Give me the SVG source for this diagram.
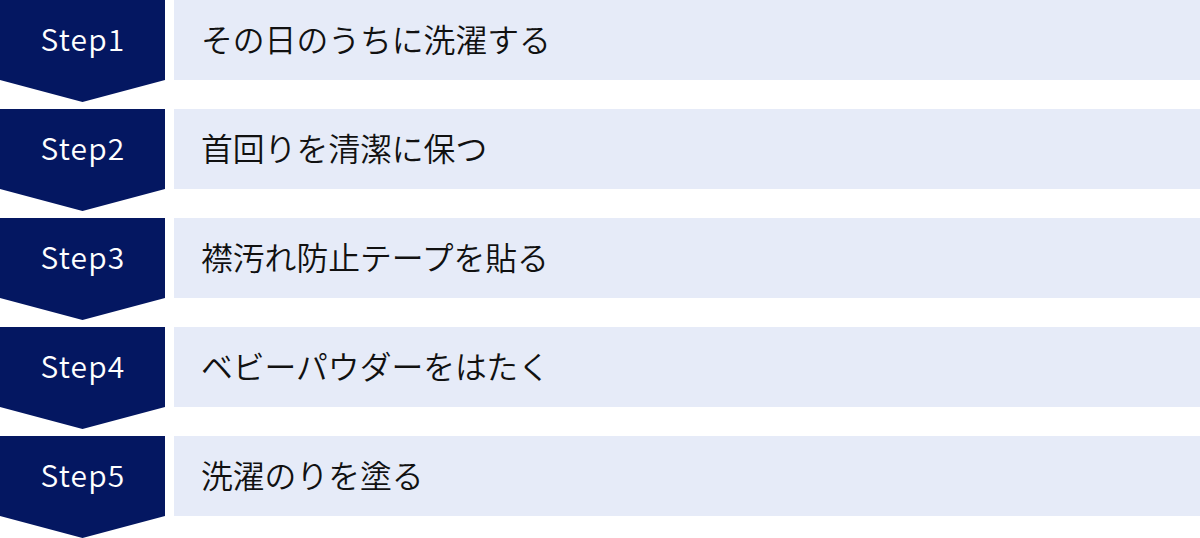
<svg xmlns="http://www.w3.org/2000/svg" width="1200" height="538" viewBox="0 0 1200 538">
<defs>
<style>
.step{fill:#041761}
.box{fill:#e6ebf8}
.st{font-family:"Noto Sans CJK JP","Noto Sans",sans-serif;font-size:30px;font-weight:350;letter-spacing:1.2px;fill:#ffffff;text-anchor:middle}
.tx{font-family:"Noto Sans CJK JP",sans-serif;font-size:31.8px;font-weight:350;fill:#111111}
</style>
<polygon id="chev" class="step" points="0,0 165,0 165,80 82.5,102 0,80"/>
</defs>
<rect width="1200" height="538" fill="#ffffff"/>
<g id="step1" transform="translate(0,0)">
<use href="#chev"/>
<rect class="box" x="174" y="0" width="1026" height="80"/>
<text class="st" x="83" y="51">Step1</text>
<text class="tx" x="201" y="52">その日のうちに洗濯する</text>
</g>
<g id="step2" transform="translate(0,109)">
<use href="#chev"/>
<rect class="box" x="174" y="0" width="1026" height="80"/>
<text class="st" x="83" y="51">Step2</text>
<text class="tx" x="201" y="52">首回りを清潔に保つ</text>
</g>
<g id="step3" transform="translate(0,218)">
<use href="#chev"/>
<rect class="box" x="174" y="0" width="1026" height="80"/>
<text class="st" x="83" y="51">Step3</text>
<text class="tx" x="201" y="52">襟汚れ防止テープを貼る</text>
</g>
<g id="step4" transform="translate(0,327)">
<use href="#chev"/>
<rect class="box" x="174" y="0" width="1026" height="80"/>
<text class="st" x="83" y="51">Step4</text>
<text class="tx" x="201" y="52">ベビーパウダーをはたく</text>
</g>
<g id="step5" transform="translate(0,436)">
<use href="#chev"/>
<rect class="box" x="174" y="0" width="1026" height="80"/>
<text class="st" x="83" y="51">Step5</text>
<text class="tx" x="201" y="52">洗濯のりを塗る</text>
</g>
<g id="connectors"/>
</svg>
